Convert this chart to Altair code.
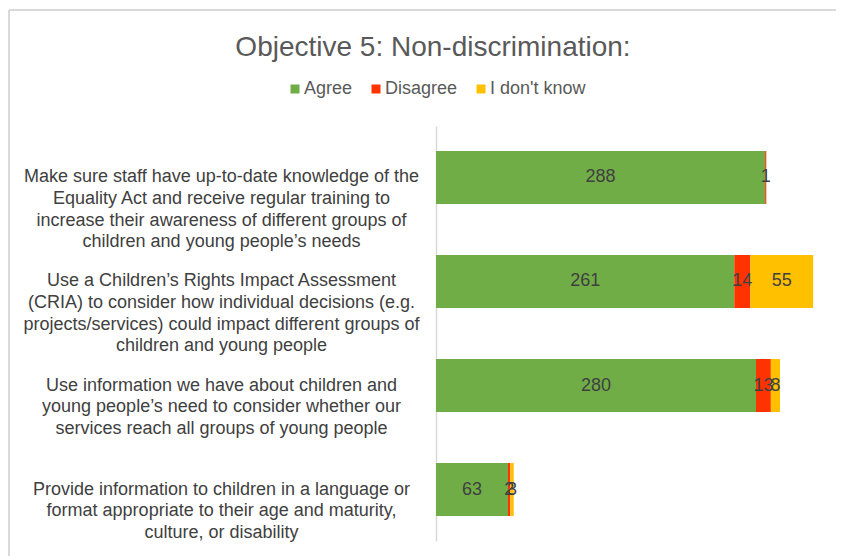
import altair as alt
import pandas as pd

title_text = "Objective 5: Non-discrimination:"
categories = [
    "Make sure staff have up-to-date knowledge of the|Equality Act and receive regular training to|increase their awareness of different groups of|children and young people’s needs",
    "Use a Children’s Rights Impact Assessment|(CRIA) to consider how individual decisions (e.g.|projects/services) could impact different groups of|children and young people",
    "Use information we have about children and|young people’s need to consider whether our|services reach all groups of young people",
    "Provide information to children in a language or|format appropriate to their age and maturity,|culture, or disability",
]
responses = ["Agree", "Disagree", "I don't know"]
agree = [288, 261, 280, 63]
disagree = [1, 14, 13, 2]
dont_know = [0, 55, 8, 3]
colors = ["#70AD47", "#FF3300", "#FFC000"]

FONT = "Liberation Sans"

rows = []
for i, c in enumerate(categories):
    for j, (r, vals) in enumerate(zip(responses, [agree, disagree, dont_know])):
        rows.append({"category": c, "response": r, "value": vals[i], "order": j})
df = pd.DataFrame(rows)

base = alt.Chart(df)

y_enc = alt.Y(
    "category:N",
    sort=categories,
    title=None,
    scale=alt.Scale(paddingInner=0.49, paddingOuter=0.24),
    axis=alt.Axis(
        labelExpr="split(datum.label, '|')",
        labelAlign="center",
        labelBaseline="middle",
        labelPadding=215,
        ticks=False,
        tickSize=0,
        labelFont=FONT,
        labelFontSize=18,
        labelColor="#404040",
        labelLimit=700,
        labelLineHeight=21.6,
        domainColor="#d9d9d9",
        domainWidth=1.5,
        grid=False,
    ),
)

bars = base.mark_bar().encode(
    x=alt.X("value:Q", stack="zero", scale=alt.Scale(domain=[0, 350]), axis=None),
    y=y_enc,
    color=alt.Color(
        "response:N",
        scale=alt.Scale(domain=responses, range=colors),
        legend=alt.Legend(
            title=None,
            orient="none",
            legendX=-150,
            legendY=-46,
            direction="horizontal",
            symbolType="square",
            symbolSize=81,
            symbolStrokeWidth=0,
            labelFont=FONT,
            labelFontSize=18,
            labelColor="#595959",
            columnPadding=14,
            labelOffset=0,
            padding=0,
        ),
    ),
    order=alt.Order("order:Q"),
)

labels = (
    base.transform_stack(
        stack="value",
        groupby=["category"],
        as_=["v0", "v1"],
        sort=[alt.SortField("order", order="ascending")],
    )
    .transform_filter("datum.value > 0")
    .transform_calculate(mid="(datum.v0 + datum.v1) / 2")
    .mark_text(font=FONT, fontSize=18, color="#404040", align="center", baseline="middle")
    .encode(
        x=alt.X("mid:Q", scale=alt.Scale(domain=[0, 350]), axis=None),
        y=alt.Y("category:N", sort=categories),
        text=alt.Text("value:Q"),
    )
)

title = (
    alt.Chart(pd.DataFrame({"t": [title_text]}))
    .mark_text(font=FONT, fontSize=28, color="#595959", align="center", baseline="alphabetic")
    .encode(text="t:N", x=alt.value(-3), y=alt.value(-70))
)

frame_top = (
    alt.Chart(pd.DataFrame({"a": [0]}))
    .mark_rule(color="#d9d9d9", strokeWidth=2)
    .encode(x=alt.value(-427), x2=alt.value(420), y=alt.value(-116))
)
frame_left = (
    alt.Chart(pd.DataFrame({"a": [0]}))
    .mark_rule(color="#d9d9d9", strokeWidth=2)
    .encode(x=alt.value(-427), y=alt.value(-116), y2=alt.value(440))
)

chart = (
    alt.layer(frame_top, frame_left, bars, labels, title)
    .properties(
        width=400,
        height=415,
        autosize=alt.AutoSizeParams(type="none"),
        padding={"left": 428, "top": 118, "right": 0, "bottom": 15},
    )
    .configure(font=FONT)
    .configure_view(strokeWidth=0, stroke="transparent")
)

chart.save("out.html", embed_options={"renderer": "svg", "actions": False})
